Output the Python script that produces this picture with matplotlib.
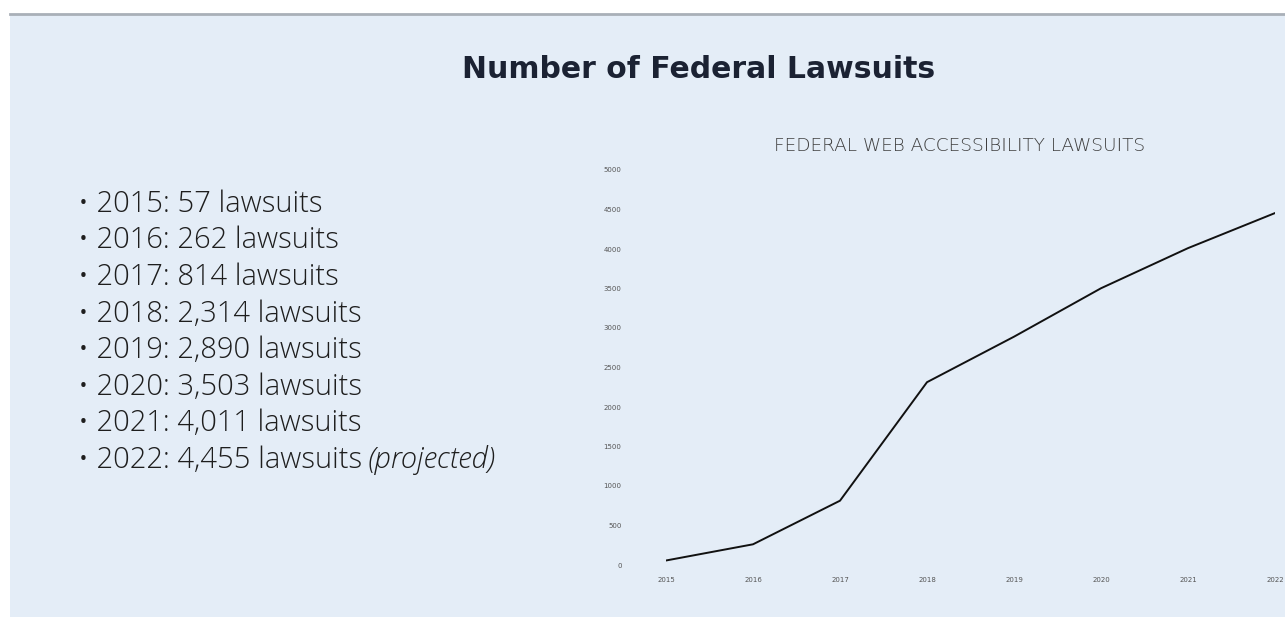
import matplotlib.pyplot as plt
from matplotlib.patches import Rectangle
from matplotlib.lines import Line2D

years = [2015, 2016, 2017, 2018, 2019, 2020, 2021, 2022]
lawsuits = [57, 262, 814, 2314, 2890, 3503, 4011, 4455]
y_ticks = [0, 500, 1000, 1500, 2000, 2500, 3000, 3500, 4000, 4500, 5000]

W, H = 1285, 617
fig = plt.figure(figsize=(W / 100, H / 100), dpi=100, facecolor='white')

# slide panel behind everything
panel_top = 1 - 14 / H
fig.patches.append(Rectangle((10 / W, 0), 1 - 10 / W, panel_top,
                             transform=fig.transFigure, facecolor='#e4edf7',
                             edgecolor='none', zorder=-5))
fig.lines.append(Line2D([10 / W, 1], [panel_top, panel_top], transform=fig.transFigure,
                        color='#a9b0b8', linewidth=2.0, zorder=-4))

ax = fig.add_axes([666 / W, 1 - 565 / H, (1275 - 666) / W, (565 - 170) / H])
ax.set_facecolor('none')
ax.plot(years, lawsuits, color='#111111', linewidth=1.4)
ax.set_xlim(2015, 2022)
ax.set_ylim(0, 5000)
ax.set_xticks(years)
ax.set_yticks(y_ticks)
for s in ax.spines.values():
    s.set_visible(False)
ax.tick_params(axis='both', length=0, labelsize=5, labelcolor='#555555')
ax.tick_params(axis='y', pad=32)
ax.tick_params(axis='x', pad=9)

fig.text(960 / W, 1 - 146 / H, 'FEDERAL WEB ACCESSIBILITY LAWSUITS', ha='center', va='center',
         fontsize=13.3, color='#3f3f3f', family='DejaVu Sans', fontweight='light')

fig.text(699 / W, 1 - 69 / H, 'Number of Federal Lawsuits', ha='center', va='center',
         fontsize=21.5, fontweight='bold', color='#1b2233', family='DejaVu Sans')

# bullet list
font = {'family': 'Open Sans', 'color': '#1e1e1e', 'size': 21, 'weight': 'light'}
y0 = 204
for i, (yr, n) in enumerate(zip(years, lawsuits)):
    t = fig.text(78 / W, 1 - (y0 + i * 36.6) / H, '\u2022 %d: %s lawsuits' % (yr, format(n, ',')),
                 ha='left', va='center', fontdict=font)
    if yr == 2022:
        ax.annotate('(projected)', xy=(1, 0.5), xycoords=t, xytext=(4, 0),
                    textcoords='offset points', ha='left', va='center',
                    fontsize=21, family='Open Sans', style='italic', fontweight='light',
                    color='#1e1e1e', annotation_clip=False)

fig.savefig('out.png', dpi=100, facecolor='white')
